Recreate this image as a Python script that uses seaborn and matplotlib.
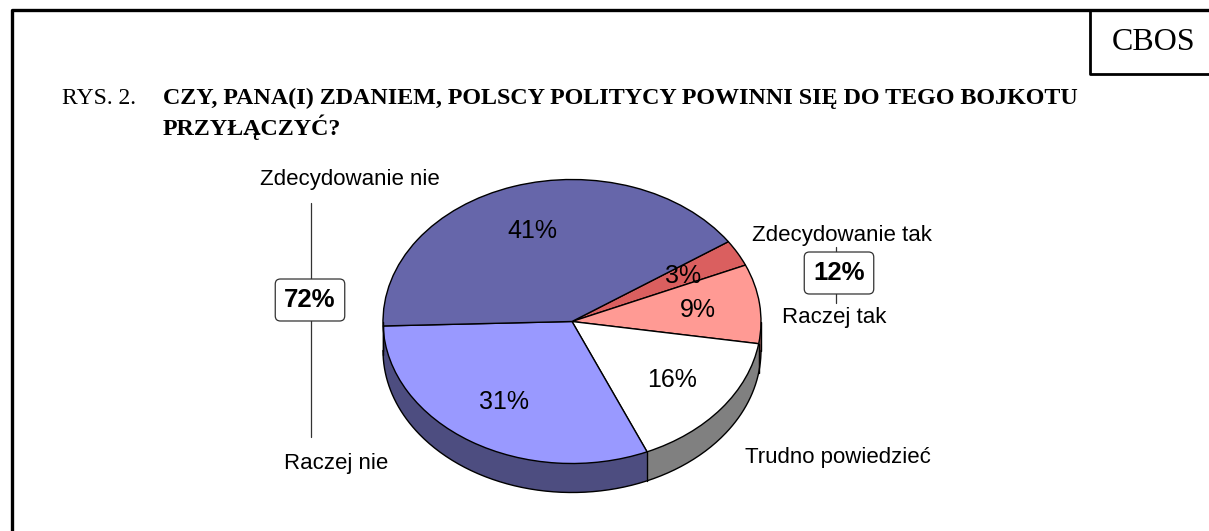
import numpy as np
import seaborn as sns
import matplotlib.pyplot as plt

# Data (clockwise from the top-right boundary)
categories = ['Zdecydowanie tak', 'Raczej tak', 'Trudno powiedzieć', 'Raczej nie', 'Zdecydowanie nie']
values = [3, 9, 16, 31, 41]
top_colors = ['#DA5F5F', '#FF9A94', '#FFFFFF', '#9999FF', '#6666AA']
group_labels = ['72%', '12%']

sns.set_theme(style='white')
plt.rcParams['font.family'] = ['Liberation Sans', 'DejaVu Sans']
plt.rcParams['text.color'] = 'black'

W, H = 1209, 531
fig = plt.figure(figsize=(W / 100, H / 100), dpi=100)

# overlay axes in pixel coordinates for frame and annotations
ov = fig.add_axes([0, 0, 1, 1])
ov.set_xlim(0, W)
ov.set_ylim(H, 0)
ov.axis('off')

# outer frame and CBOS box
ov.plot([11.5, 11.5, W], [H, 10, 10], color='black', lw=2.4, solid_capstyle='butt')
ov.plot([1090, 1090, W], [10, 74, 74], color='black', lw=2.0, solid_capstyle='butt')
ov.text(1154, 42, 'CBOS', family='Liberation Serif', fontsize=23, ha='center', va='center')

# title
ov.text(62, 98, 'RYS. 2.', family='Liberation Serif', fontsize=17, ha='left', va='center')
ov.text(163, 98, 'CZY, PANA(I) ZDANIEM, POLSCY POLITYCY POWINNI SIĘ DO TEGO BOJKOTU',
        family='Liberation Serif', fontsize=17.3, fontweight='bold', ha='left', va='center')
ov.text(163, 127, 'PRZYŁĄCZYĆ?', family='Liberation Serif', fontsize=17.3,
        fontweight='bold', ha='left', va='center')

# pie axes: unit circle maps to ellipse rx=189, ry=142 px centred at (572, 321)
rx, ry, cx, cy = 189, 142, 572, 321.5
left_px, right_px, top_px, bot_px = 322, 822, 160, 515
pie_ax = fig.add_axes([left_px / W, (H - bot_px) / H, (right_px - left_px) / W, (bot_px - top_px) / H])
depth = 29 / ry
start = 34.2

side_colors = [tuple(0.5 * np.array(plt.matplotlib.colors.to_rgb(c))) for c in top_colors]

# side of the 3D pie: stacked copies of the pie, darker
n_layers = 40
for off in np.linspace(depth, 0.005, n_layers):
    pie_ax.pie(values, colors=side_colors, startangle=start, counterclock=False,
               center=(0, -off), radius=1, wedgeprops=dict(linewidth=0))

# outline of the side
t = np.linspace(np.pi, 2 * np.pi, 300)
pie_ax.plot(np.cos(t), np.sin(t) - depth, color='black', lw=1)
pie_ax.plot([-1, -1], [0, -depth], color='black', lw=1)
pie_ax.plot([1, 1], [0, -depth], color='black', lw=1)
bounds = start - np.cumsum(values) * 3.6
for b in bounds:
    a = np.deg2rad(b)
    if np.sin(a) < 0:
        pie_ax.plot([np.cos(a)] * 2, [np.sin(a), np.sin(a) - depth], color='black', lw=1)

# top face
wedges, texts, autotexts = pie_ax.pie(
    values, colors=top_colors, startangle=start, counterclock=False,
    autopct=lambda p: f'{p:.0f}%', pctdistance=0.67,
    wedgeprops=dict(edgecolor='black', linewidth=1),
    textprops=dict(fontsize=18, color='black'))

pie_ax.set_aspect('auto')
pie_ax.set_xlim((left_px - cx) / rx, (right_px - cx) / rx)
pie_ax.set_ylim((cy - bot_px) / ry, (cy - top_px) / ry)
pie_ax.axis('off')

# category labels
lab_fs = 16
ov.text(350, 179, categories[4], fontsize=lab_fs, ha='center', va='center')
ov.text(336, 464, categories[3], fontsize=lab_fs, ha='center', va='center')
ov.text(838, 458, categories[2], fontsize=lab_fs, ha='center', va='center')
ov.text(842, 235, categories[0], fontsize=lab_fs, ha='center', va='center')
ov.text(834, 317, categories[1], fontsize=lab_fs, ha='center', va='center')

# group brackets
ov.plot([311, 311], [203, 437], color='#333333', lw=0.9)
ov.plot([836, 836], [247, 303], color='#333333', lw=0.9)
box = dict(boxstyle='round,pad=0.35,rounding_size=0.2', facecolor='white', edgecolor='#333333', lw=0.9)
ov.text(310, 300, group_labels[0], fontsize=18.5, fontweight='bold', ha='center', va='center', bbox=box)
ov.text(839, 273, group_labels[1], fontsize=18.5, fontweight='bold', ha='center', va='center', bbox=box)

fig.savefig('out.png', dpi=100)
